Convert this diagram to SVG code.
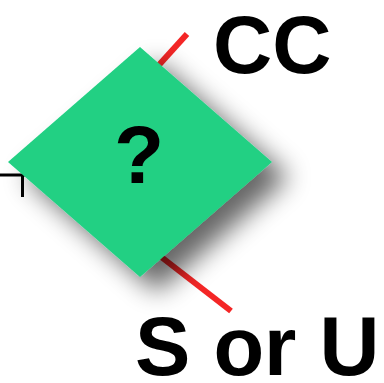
<svg xmlns="http://www.w3.org/2000/svg" width="384" height="383" viewBox="0 0 384 383">
  <style>
    .edge { stroke: #f42626; stroke-width: 6; fill: none; }
    .wire { stroke: #000; stroke-width: 3; fill: none; }
    .label { font-family: "Liberation Sans", Arial, sans-serif; font-weight: bold; fill: #000; }
  </style>
  <defs>
    <filter id="shadow" x="-40%" y="-40%" width="190%" height="190%">
      <feGaussianBlur in="SourceAlpha" stdDeviation="13"/>
      <feOffset dx="17" dy="15" result="blur"/>
      <feComponentTransfer>
        <feFuncA type="linear" slope="0.6"/>
      </feComponentTransfer>
      <feMerge>
        <feMergeNode/>
        <feMergeNode in="SourceGraphic"/>
      </feMerge>
    </filter>
  </defs>
  <rect width="384" height="383" fill="#fff"/>

  <g id="connectors">
    <line class="wire" x1="0" y1="175" x2="30" y2="175"/>
    <line class="wire" x1="22.5" y1="175" x2="22.5" y2="197"/>
    <line class="edge" x1="158" y1="66" x2="187" y2="34"/>
    <line class="edge" x1="160" y1="256" x2="231" y2="311"/>
  </g>

  <g id="decision">
    <polygon points="140,47 272,162 140,277 8,162" fill="#21d083" filter="url(#shadow)"/>
    <text class="label" x="139" y="183" font-size="82" text-anchor="middle">?</text>
  </g>

  <g id="label-cc">
    <text class="label" x="213" y="73" font-size="82">CC</text>
  </g>
  <g id="label-su">
    <text class="label" x="135" y="375" font-size="83">S or U</text>
  </g>
</svg>
